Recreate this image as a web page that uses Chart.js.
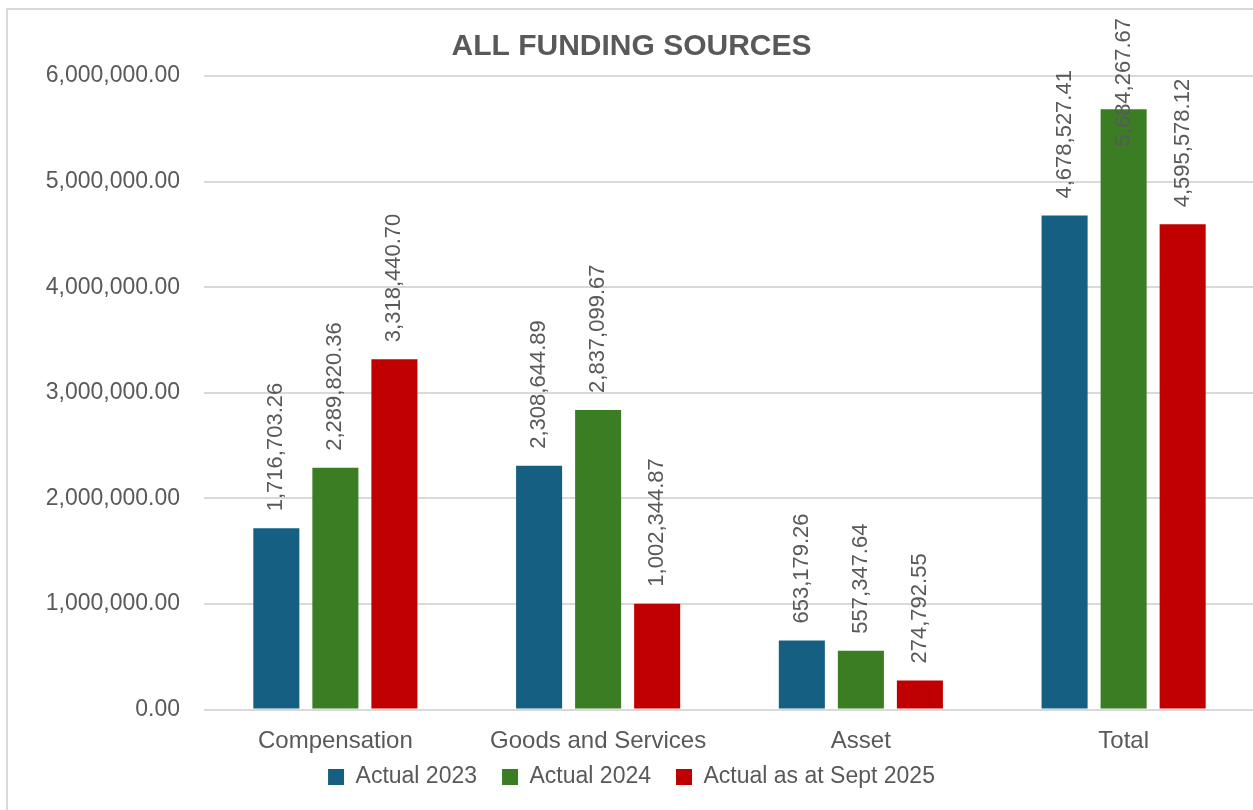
<!DOCTYPE html>
<html>
<head>
<meta charset="utf-8">
<script src="https://cdn.jsdelivr.net/npm/chart.js@4.4.1/dist/chart.umd.min.js"></script>
<style>
  html, body { margin: 0; padding: 0; background: #ffffff; overflow: hidden; }
  #frame { position: absolute; left: 6px; top: 8px; width: 1300px; height: 900px;
           border-left: 2px solid #d9d9d9; border-top: 2px solid #d9d9d9; }
  #wrap { position: absolute; left: 0; top: 0; width: 1262px; height: 810px; }
</style>
</head>
<body>
<div id="frame"></div>
<div id="wrap"><canvas id="c"></canvas></div>
<script>
// ---- data ----
const categories = ['Compensation', 'Goods and Services', 'Asset', 'Total'];
const seriesNames = ['Actual 2023', 'Actual 2024', 'Actual as at Sept 2025'];
const actual2023 = [1716703.26, 2308644.89, 653179.26, 4678527.41];
const actual2024 = [2289820.36, 2837099.67, 557347.64, 5684267.67];
const actualSept2025 = [3318440.70, 1002344.87, 274792.55, 4595578.12];
const yTickValues = [0, 1000000, 2000000, 3000000, 4000000, 5000000, 6000000];
const chartTitle = 'ALL FUNDING SOURCES';

const colors = ['#156082', '#3b7d23', '#c00000'];
const textColor = '#595959';
const gridColor = '#d9d9d9';
const fontFamily = '"Liberation Sans", Arial, sans-serif';

const fmt = v => Number(v).toLocaleString('en-US', { minimumFractionDigits: 2, maximumFractionDigits: 2 });

const valueLabels = {
  id: 'valueLabels',
  afterLayout(chart) {
    // let the category labels overlap the legend strip without being clipped
    const s = chart.scales.x;
    s.bottom = s.top + 60;
  },
  afterDatasetsDraw(chart) {
    const ctx = chart.ctx;
    ctx.save();
    ctx.font = '22px ' + fontFamily;
    ctx.fillStyle = textColor;
    ctx.textBaseline = 'middle';
    ctx.textAlign = 'left';
    const topLimit = 18;
    chart.data.datasets.forEach((ds, di) => {
      const meta = chart.getDatasetMeta(di);
      meta.data.forEach((el, i) => {
        const txt = fmt(ds.data[i]);
        const w = ctx.measureText(txt).width;
        let start = el.y - 17;
        if (start - w < topLimit) start = topLimit + w;
        ctx.save();
        ctx.translate(el.x, start);
        ctx.rotate(-Math.PI / 2);
        ctx.fillText(txt, 0, 0);
        ctx.restore();
      });
    });
    ctx.restore();
  }
};

const datasetsData = [actual2023, actual2024, actualSept2025];

new Chart(document.getElementById('c'), {
  type: 'bar',
  data: {
    labels: categories,
    datasets: datasetsData.map((d, i) => ({
      label: seriesNames[i],
      data: d,
      backgroundColor: colors[i],
      borderWidth: 0,
      categoryPercentage: 0.674,
      barPercentage: 0.78
    }))
  },
  options: {
    responsive: true,
    maintainAspectRatio: false,
    animation: false,
    layout: { padding: { left: 8, right: 7, top: 0, bottom: 11.5 } },
    plugins: {
      title: {
        display: true,
        text: chartTitle,
        color: textColor,
        font: { family: fontFamily, size: 30, weight: 'bold' },
        padding: { top: 29, bottom: 11 }
      },
      legend: {
        position: 'bottom',
        labels: {
          color: textColor,
          font: { family: fontFamily, size: 23 },
          boxWidth: 16,
          boxHeight: 16,
          padding: 25
        }
      },
      tooltip: { enabled: false }
    },
    scales: {
      x: {
        afterFit(scale) { scale.height = 31; },
        grid: { display: false, drawTicks: false },
        border: { display: false },
        ticks: {
          color: textColor,
          font: { family: fontFamily, size: 24 },
          padding: 17
        }
      },
      y: {
        min: 0,
        max: 6000000,
        afterFit(scale) { scale.width = 196; },
        afterBuildTicks(scale) { scale.ticks = yTickValues.map(v => ({ value: v })); },
        grid: { color: gridColor, lineWidth: 2, drawTicks: false },
        border: { display: false },
        ticks: {
          color: textColor,
          font: { family: fontFamily, size: 23 },
          padding: 24,
          callback: v => fmt(v)
        }
      }
    }
  },
  plugins: [valueLabels]
});
</script>
</body>
</html>
